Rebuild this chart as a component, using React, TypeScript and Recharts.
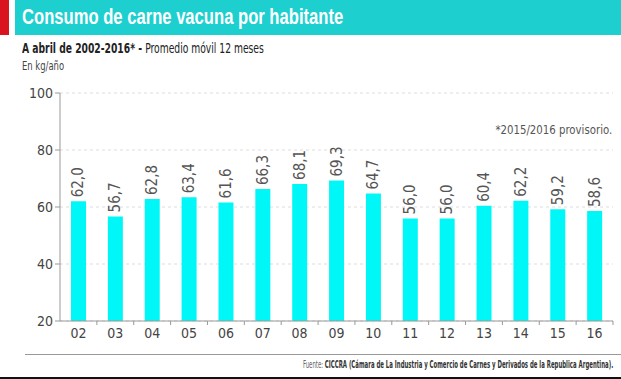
import { Bar, BarChart, CartesianGrid, LabelList, XAxis, YAxis } from "recharts";

const years = ["02", "03", "04", "05", "06", "07", "08", "09", "10", "11", "12", "13", "14", "15", "16"];
const consumo = [62.0, 56.7, 62.8, 63.4, 61.6, 66.3, 68.1, 69.3, 64.7, 56.0, 56.0, 60.4, 62.2, 59.2, 58.6];
const yTicks = [20, 40, 60, 80, 100];

const data = years.map((year, i) => ({ year, value: consumo[i] }));

const FONT = "'Liberation Sans Narrow', 'DejaVu Sans Condensed', 'Liberation Sans', sans-serif";
const CHART_W = 621;
const MARGIN_RIGHT = 8;
const Y_W = 60;
const BAND = (CHART_W - MARGIN_RIGHT - Y_W) / years.length;

const fmt = (v: number) => v.toFixed(1).replace(".", ",");

function XTick(props: any) {
  const { x, y, payload } = props;
  return (
    <g>
      <line x1={x + BAND / 2} x2={x + BAND / 2} y1={y - 8} y2={y - 4} stroke="#999" />
      <text x={x} y={y + 9} textAnchor="middle" fontSize={14} fill="#444" fontFamily={FONT}>
        {payload.value}
      </text>
    </g>
  );
}

function ValueLabel(props: any) {
  const { x, y, width, value } = props;
  const cx = x + width / 2;
  const ty = y - 4;
  return (
    <text
      x={cx}
      y={ty}
      transform={`rotate(-90 ${cx} ${ty})`}
      textAnchor="start"
      dominantBaseline="central"
      fontSize={15}
      fill="#555"
      fontFamily={FONT}
    >
      {fmt(value)}
    </text>
  );
}

const squeeze = (s: number, origin = "left"): any => ({
  transform: `scaleX(${s})`,
  transformOrigin: origin,
  whiteSpace: "nowrap",
});

export default function App() {
  return (
    <div style={{ position: "absolute", left: 0, top: 0, width: 621, height: 379, background: "#fff", fontFamily: FONT, overflow: "hidden" }}>
      <div style={{ position: "absolute", left: 0, top: 0, width: 9, height: 35, background: "#d9141e" }} />
      <div style={{ position: "absolute", left: 15, top: 0, right: 0, height: 35, background: "#1dcfcf" }} />
      <div style={{ position: "absolute", left: 22, top: 4, color: "#fff", fontSize: 22, fontWeight: "bold", fontFamily: "'Liberation Sans', Arial, sans-serif", ...squeeze(0.755) }}>
        Consumo de carne vacuna por habitante
      </div>
      <div style={{ position: "absolute", left: 22, top: 40, fontSize: 14, color: "#222", ...squeeze(0.73) }}>
        <b>A abril de 2002-2016* - </b>Promedio móvil 12 meses
      </div>
      <div style={{ position: "absolute", left: 22, top: 59, fontSize: 12, color: "#444", ...squeeze(0.78) }}>En kg/año</div>
      <div style={{ position: "absolute", right: 9, top: 122, fontSize: 13, color: "#555", ...squeeze(0.87, "right") }}>*2015/2016 provisorio.</div>

      <div style={{ position: "absolute", left: 0, top: 80 }}>
        <BarChart width={CHART_W} height={262} data={data} margin={{ top: 13, right: MARGIN_RIGHT, bottom: 0, left: 0 }} barCategoryGap={0}>
          <CartesianGrid vertical={false} strokeDasharray="3 3" stroke="#ddd" />
          <XAxis dataKey="year" height={21} stroke="#999" tickLine={false} tick={<XTick />} interval={0} />
          <YAxis
            width={Y_W}
            domain={[20, 100]}
            ticks={yTicks}
            stroke="#999"
            tickSize={5}
            tick={{ fontSize: 14, fill: "#444", fontFamily: FONT }}
          />
          <Bar dataKey="value" fill="#00f7f7" barSize={15} isAnimationActive={false}>
            <LabelList dataKey="value" content={<ValueLabel />} />
          </Bar>
        </BarChart>
      </div>

      <div style={{ position: "absolute", left: 25, right: 0, top: 354, height: 1, background: "#999" }} />
      <div style={{ position: "absolute", right: 8, top: 359, fontSize: 10, color: "#666", ...squeeze(0.6, "right") }}>
        Fuente: <b style={{ color: "#333" }}>CICCRA (Cámara de La Industria y Comercio de Carnes y Derivados de la Republica Argentina).</b>
      </div>
      <div style={{ position: "absolute", left: 0, right: 0, top: 377, height: 2, background: "#111" }} />
    </div>
  );
}
